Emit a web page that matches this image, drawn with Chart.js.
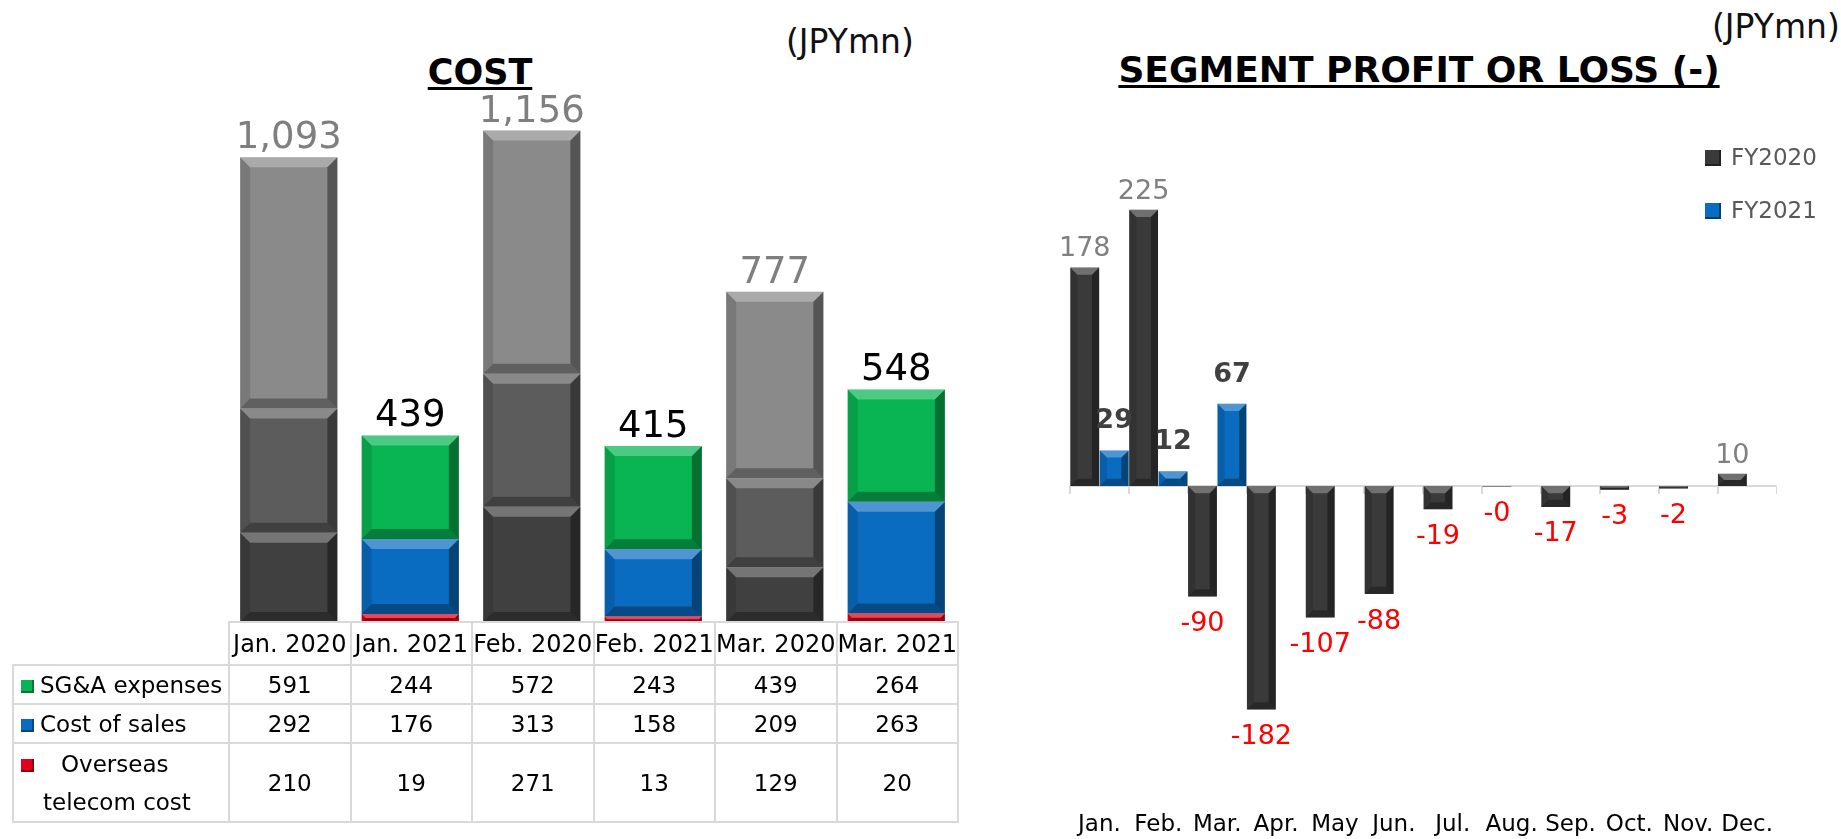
<!DOCTYPE html>
<html lang="en">
  <head>
    <meta charset="UTF-8" />
    <title>Cost / Segment profit or loss</title>
    <script src="https://cdn.jsdelivr.net/npm/chart.js"></script>
    <style>
      body {
        margin: 0;
        background: #fff;
        font-family: "DejaVu Sans", Verdana, sans-serif;
      }
      #page {
        position: relative;
        width: 1841px;
        height: 839px;
        overflow: hidden;
      }
      .title {
        position: absolute;
        font-weight: bold;
        line-height: 1;
        text-align: center;
        text-decoration: underline;
        text-decoration-thickness: 3px;
        text-underline-offset: 3px;
        text-decoration-skip-ink: none;
        color: #000;
      }
      .unit {
        position: absolute;
        font-size: 33px;
        line-height: 1;
        color: #111;
        white-space: nowrap;
      }
      canvas {
        position: absolute;
      }
      #costTable {
        position: absolute;
        left: 12px;
        top: 621px;
        width: 945px;
        border-collapse: collapse;
        table-layout: fixed;
        font-size: 23px;
        color: #000;
      }
      #costTable td {
        border: 2px solid #d9d9d9;
        text-align: center;
        padding: 0;
        white-space: nowrap;
      }
      #costTable tr:first-child td {
        font-size: 24px;
      }
      #costTable td.name {
        text-align: left;
        padding-left: 7px;
      }
      #costTable td.blank {
        border-top: none;
        border-left: none;
      }
      .swatch {
        display: inline-block;
        width: 13px;
        height: 13px;
        margin-right: 6px;
        vertical-align: 0px;
      }
      .line2 {
        display: block;
        padding-left: 22px;
        margin-top: 12px;
      }
      #legend {
        position: absolute;
        left: 1705px;
        top: 140px;
        font-size: 23px;
        color: #595959;
      }
      #legend div {
        height: 53px;
        line-height: 34px;
      }
      #legend span.key {
        display: inline-block;
        width: 16px;
        height: 16px;
        margin-right: 10px;
        vertical-align: -1px;
      }
    </style>
  </head>
  <body>
    <div id="page">
      <div class="title" style="left: 330px; top: 55px; width: 300px; font-size: 35px">COST</div>
      <div class="unit" style="left: 786px; top: 25px">(JPYmn)</div>
      <canvas id="costChart" width="729" height="542" style="left: 228px; top: 80px"></canvas>
      <table id="costTable"></table>

      <div class="title" style="left: 1019px; top: 52px; width: 800px; font-size: 36px">SEGMENT PROFIT OR LOSS (-)</div>
      <div class="unit" style="left: 1712px; top: 10px">(JPYmn)</div>
      <canvas id="profitChart" width="737" height="679" style="left: 1040px; top: 160px"></canvas>
      <div id="legend"></div>
    </div>

    <script>
      const FONT = "'DejaVu Sans', Verdana, sans-serif";

      // ---- COST (left) ----
      const costCategories = ["Jan. 2020", "Jan. 2021", "Feb. 2020", "Feb. 2021", "Mar. 2020", "Mar. 2021"];
      const costSeriesNames = ["SG&A expenses", "Cost of sales", "Overseas\ntelecom cost"];
      const sgaExpenses = [591, 244, 572, 243, 439, 264];
      const costOfSales = [292, 176, 313, 158, 209, 263];
      const overseasTelecom = [210, 19, 271, 13, 129, 20];
      const costTotals = [1093, 439, 1156, 415, 777, 548];

      // ---- SEGMENT PROFIT OR LOSS (right) ----
      const months = ["Jan.", "Feb.", "Mar.", "Apr.", "May", "Jun.", "Jul.", "Aug.", "Sep.", "Oct.", "Nov.", "Dec."];
      const profitSeriesNames = ["FY2020", "FY2021"];
      const fy2020 = [178, 225, -90, -182, -107, -88, -19, -0.3, -17, -3, -2, 10];
      const fy2021 = [29, 12, 67, null, null, null, null, null, null, null, null, null];

      const grays = ["#8a8a8a", "#5c5c5c", "#404040"]; // SG&A, cost of sales, overseas (2020)
      const colours = ["#08b552", "#0a6cc0", "#e0001a"]; // same order (2021)
      const profitColours = ["#3a3a3a", "#0a6cc0"];

      function is2020(cat) {
        return cat.endsWith("2020");
      }

      function poly(ctx, pts, fill) {
        ctx.beginPath();
        ctx.moveTo(pts[0][0], pts[0][1]);
        for (let k = 1; k < pts.length; k++) ctx.lineTo(pts[k][0], pts[k][1]);
        ctx.closePath();
        ctx.fillStyle = fill;
        ctx.fill();
      }

      // bevelled look on every bar
      const bevel = {
        id: "bevel",
        afterDatasetsDraw(chart) {
          const ctx = chart.ctx;
          chart.data.datasets.forEach((ds, di) => {
            const meta = chart.getDatasetMeta(di);
            meta.data.forEach((bar, i) => {
              if (ds.data[i] == null) return;
              const p = bar.getProps(["x", "y", "base", "width"], true);
              const l = p.x - p.width / 2;
              const r = p.x + p.width / 2;
              const t = Math.min(p.y, p.base);
              const b = Math.max(p.y, p.base);
              const h = b - t;
              if (h < 1) return;
              const e = Math.min(10, h / 2, p.width / 4);
              ctx.save();
              poly(ctx, [[l, t], [l + e, t + e], [l + e, b - e], [l, b]], "rgba(0,0,0,0.12)");
              poly(ctx, [[r, t], [r - e, t + e], [r - e, b - e], [r, b]], "rgba(0,0,0,0.38)");
              poly(ctx, [[l, t], [r, t], [r - e, t + e], [l + e, t + e]], "rgba(255,255,255,0.28)");
              poly(ctx, [[l, b], [r, b], [r - e, b - e], [l + e, b - e]], "rgba(0,0,0,0.3)");
              ctx.restore();
            });
          });
        },
      };

      const costTotalLabels = {
        id: "costTotalLabels",
        afterDatasetsDraw(chart) {
          const ctx = chart.ctx;
          ctx.save();
          ctx.font = "37px " + FONT;
          ctx.textAlign = "center";
          ctx.textBaseline = "alphabetic";
          costCategories.forEach((cat, i) => {
            let top = Infinity;
            let x = 0;
            chart.data.datasets.forEach((ds, di) => {
              const el = chart.getDatasetMeta(di).data[i];
              if (el.y < top) top = el.y;
              x = el.x;
            });
            ctx.fillStyle = is2020(cat) ? "#7f7f7f" : "#000000";
            ctx.fillText(costTotals[i].toLocaleString("en-US"), x, top - 9);
          });
          ctx.restore();
        },
      };

      // stacked bottom -> top : overseas, cost of sales, SG&A
      const costSeries = [sgaExpenses, costOfSales, overseasTelecom];
      const costDatasets = [2, 1, 0].map((s) => ({
        label: costSeriesNames[s].replace("\n", " "),
        data: costSeries[s],
        backgroundColor: costCategories.map((c) => (is2020(c) ? grays[s] : colours[s])),
        borderWidth: 0,
        barPercentage: 0.8,
        categoryPercentage: 1.0,
      }));

      new Chart(document.getElementById("costChart"), {
        type: "bar",
        data: { labels: costCategories, datasets: costDatasets },
        options: {
          responsive: false,
          animation: false,
          devicePixelRatio: 1,
          layout: { padding: 0 },
          plugins: { legend: { display: false }, tooltip: { enabled: false } },
          scales: {
            x: { stacked: true, display: false },
            y: { stacked: true, display: false, min: 0, max: 1275 },
          },
        },
        plugins: [bevel, costTotalLabels],
      });

      // data table under the cost chart
      (function buildTable() {
        const table = document.getElementById("costTable");
        let html = '<colgroup><col style="width:216px">';
        costCategories.forEach(() => (html += '<col style="width:121.5px">'));
        html += "</colgroup>";
        html += '<tr style="height:43px"><td class="blank"></td>';
        costCategories.forEach((c) => (html += "<td>" + c + "</td>"));
        html += "</tr>";
        const heights = [39, 39, 79];
        costSeriesNames.forEach((name, s) => {
          const parts = name.split("\n");
          const sw = '<span class="swatch" style="background:' + colours[s] +
            ';box-shadow:inset -2px -2px 0 rgba(0,0,0,0.35)"></span>';
          let label = sw + (parts.length > 1 ? '<span style="padding-left:21px">' : "<span>") +
            parts[0].replace("&", "&amp;") + "</span>";
          for (let k = 1; k < parts.length; k++) label += '<span class="line2">' + parts[k] + "</span>";
          html += '<tr style="height:' + heights[s] + 'px"><td class="name">' + label + "</td>";
          costSeries[s].forEach((v) => (html += "<td>" + v + "</td>"));
          html += "</tr>";
        });
        table.innerHTML = html;
      })();

      // ---- profit chart ----
      function fmt(v) {
        return (v < 0 ? "-" : "") + Math.round(Math.abs(v));
      }

      const profitLabels = {
        id: "profitLabels",
        afterDatasetsDraw(chart) {
          const ctx = chart.ctx;
          ctx.save();
          ctx.textAlign = "center";
          chart.data.datasets.forEach((ds, di) => {
            chart.getDatasetMeta(di).data.forEach((el, i) => {
              const v = ds.data[i];
              if (v == null) return;
              if (v < 0) {
                ctx.font = "27px " + FONT;
                ctx.fillStyle = "#ff0000";
                ctx.textBaseline = "top";
                ctx.fillText(fmt(v), el.x, Math.max(el.y, el.base) + 14);
              } else {
                ctx.font = (di === 1 ? "bold " : "") + "27px " + FONT;
                ctx.fillStyle = di === 1 ? "#404040" : "#808080";
                ctx.textBaseline = "alphabetic";
                ctx.fillText(fmt(v), el.x, el.y - (di === 1 ? 22 : 11));
              }
            });
          });
          ctx.restore();
        },
      };

      const zeroAxis = {
        id: "zeroAxis",
        beforeDatasetsDraw(chart) {
          const ctx = chart.ctx;
          const area = chart.chartArea;
          const y0 = chart.scales.y.getPixelForValue(0);
          const step = (area.right - area.left) / months.length;
          ctx.save();
          ctx.strokeStyle = "#d9d9d9";
          ctx.lineWidth = 2;
          ctx.beginPath();
          ctx.moveTo(area.left, y0);
          ctx.lineTo(area.right, y0);
          for (let k = 0; k <= months.length; k++) {
            const x = Math.round(area.left + k * step);
            ctx.moveTo(x, y0);
            ctx.lineTo(x, y0 + 8);
          }
          ctx.stroke();
          ctx.restore();
        },
      };

      new Chart(document.getElementById("profitChart"), {
        type: "bar",
        data: {
          labels: months,
          datasets: [fy2020, fy2021].map((d, k) => ({
            label: profitSeriesNames[k],
            data: d,
            backgroundColor: profitColours[k],
            borderWidth: 0,
            barPercentage: 0.98,
            categoryPercentage: 1.0,
          })),
        },
        options: {
          responsive: false,
          animation: false,
          devicePixelRatio: 1,
          layout: { padding: { left: 30, right: 0, top: 0, bottom: 0 } },
          plugins: { legend: { display: false }, tooltip: { enabled: false } },
          scales: {
            x: {
              grid: { display: false, drawTicks: false },
              border: { display: false },
              ticks: { color: "#000", font: { family: FONT, size: 23 }, padding: 4, maxRotation: 0, autoSkip: false },
              afterFit(scale) {
                scale.height = 32;
              },
            },
            y: { display: false, min: -261.4, max: 265.5 },
          },
        },
        plugins: [zeroAxis, bevel, profitLabels],
      });

      // legend
      document.getElementById("legend").innerHTML = profitSeriesNames
        .map((n, k) => '<div><span class="key" style="background:' + profitColours[k] +
          ';box-shadow:inset -2px -2px 0 rgba(0,0,0,0.4)"></span>' + n + "</div>")
        .join("");
    </script>
  </body>
</html>
